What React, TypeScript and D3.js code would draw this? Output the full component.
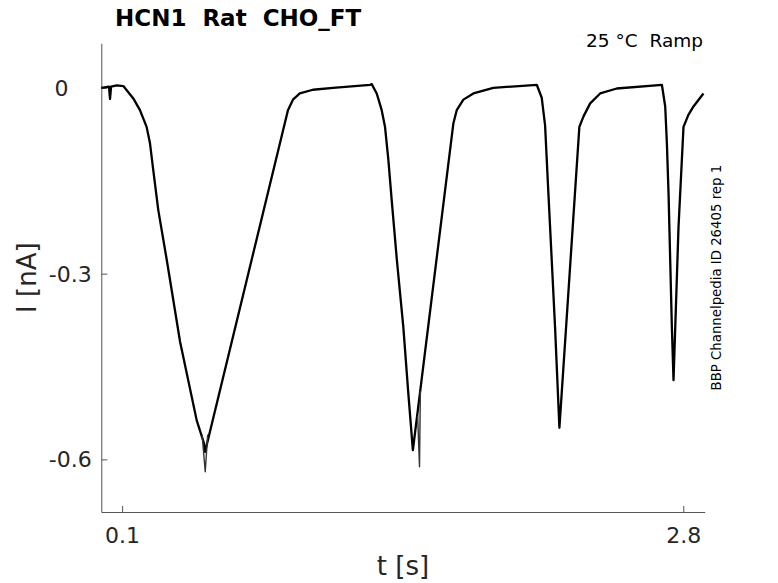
import { useEffect, useRef } from "react";
import * as d3 from "d3";

// main sweep overlay (t in s, I in nA)
const timeA = [
  0.0, 0.037, 0.042, 0.047, 0.075, 0.106, 0.154, 0.186, 0.218, 0.234, 0.25, 0.274, 0.315, 0.379,
  0.459, 0.494, 0.499, 0.898, 0.922, 0.955, 1.018, 1.115, 1.293, 1.301, 1.325, 1.349, 1.365, 1.381,
  1.397, 1.422, 1.453, 1.477, 1.499, 1.694, 1.71, 1.742, 1.79, 1.886, 2.095, 2.119, 2.135, 2.151,
  2.167, 2.183, 2.204, 2.3, 2.32, 2.352, 2.4, 2.48, 2.697, 2.713, 2.721, 2.729, 2.737, 2.745, 2.753,
  2.777, 2.801, 2.824, 2.849, 2.897,
];
const currentA = [
  0.0, 0.002, -0.018, 0.002, 0.004, 0.003, -0.017, -0.036, -0.063, -0.089, -0.133, -0.197, -0.278,
  -0.41, -0.537, -0.574, -0.588, -0.036, -0.019, -0.009, -0.003, 0.0, 0.005, 0.006, -0.009, -0.036,
  -0.063, -0.116, -0.181, -0.278, -0.386, -0.493, -0.585, -0.057, -0.036, -0.019, -0.009, 0.0, 0.005,
  -0.016, -0.06, -0.17, -0.278, -0.386, -0.549, -0.063, -0.046, -0.025, -0.009, -0.001, 0.005, -0.03,
  -0.089, -0.17, -0.278, -0.386, -0.472, -0.225, -0.063, -0.044, -0.03, -0.009,
];

// sweeps that dip deeper near the first two troughs
const spikeTime1 = [0.485, 0.5, 0.512];
const spikeCurrent1 = [-0.56, -0.62, -0.56];
const spikeTime2 = [1.522, 1.531, 1.535];
const spikeCurrent2 = [-0.53, -0.612, -0.49];

const xTicks = [0.1, 2.8];
const xTickLabels = ["0.1", "2.8"];
const yTicks = [-0.6, -0.3, 0];
const yTickLabels = ["-0.6", "-0.3", "0\u2007\u2008\u200A"];

const xDomain: [number, number] = [0, 2.903];
const yDomain: [number, number] = [-0.685, 0.072];

const FONT = "'DejaVu Sans', sans-serif";

export default function App() {
  const svgRef = useRef<SVGSVGElement>(null);

  useEffect(() => {
    const width = 778;
    const height = 583;
    const svg = d3.select(svgRef.current);
    svg.selectAll("*").remove();

    const margin = { top: 43.3, right: 73.3, bottom: 71, left: 101.3 };
    const W = width - margin.left - margin.right;
    const H = height - margin.top - margin.bottom;

    svg.attr("width", width).attr("height", height);
    svg.append("rect").attr("width", width).attr("height", height).attr("fill", "#fff");

    const g = svg.append("g").attr("transform", `translate(${margin.left},${margin.top})`);

    const xScale = d3.scaleLinear().domain(xDomain).range([0, W]);
    const yScale = d3.scaleLinear().domain(yDomain).range([H, 0]);

    // Axes (MATLAB style: inward ticks, no box)
    g.append("g")
      .attr("transform", `translate(0,${H})`)
      .call(
        d3.axisBottom(xScale)
          .tickValues(xTicks)
          .tickFormat((_, i) => xTickLabels[i])
          .tickSizeInner(-6)
          .tickSizeOuter(0)
          .tickPadding(15)
      )
      .call((ax) => ax.select(".domain").attr("stroke", "#555"))
      .call((ax) => ax.selectAll(".tick line").attr("stroke", "#555"))
      .call((ax) =>
        ax.selectAll(".tick text").attr("fill", "#262626").attr("font-size", 22).attr("font-family", FONT)
      );

    g.append("g")
      .call(
        d3.axisLeft(yScale)
          .tickValues(yTicks)
          .tickFormat((_, i) => yTickLabels[i])
          .tickSizeInner(-6)
          .tickSizeOuter(0)
          .tickPadding(9.5)
      )
      .call((ax) => ax.select(".domain").attr("stroke", "#555"))
      .call((ax) => ax.selectAll(".tick line").attr("stroke", "#555"))
      .call((ax) =>
        ax
          .selectAll(".tick text")
          .attr("fill", "#262626")
          .attr("font-size", 22)
          .attr("font-family", FONT)
          .attr("dy", null)
          .attr("dominant-baseline", "central")
      );

    // Traces
    const path = d3
      .line<[number, number]>()
      .x(([t]) => xScale(t))
      .y(([, v]) => yScale(v));

    const drawTrace = (ts: number[], vs: number[], stroke: string, sw: number) => {
      g.append("path")
        .datum(ts.map((t, i) => [t, vs[i]] as [number, number]))
        .attr("d", path)
        .attr("fill", "none")
        .attr("stroke", stroke)
        .attr("stroke-width", sw)
        .attr("stroke-linejoin", "round");
    };

    drawTrace(timeA, currentA, "#000", 2.3);
    drawTrace(spikeTime1, spikeCurrent1, "#333", 1.4);
    drawTrace(spikeTime2, spikeCurrent2, "#333", 1.4);

    // Axis labels
    g.append("text")
      .attr("x", W / 2)
      .attr("y", H + 63)
      .attr("text-anchor", "middle")
      .attr("font-size", 26)
      .attr("font-family", FONT)
      .attr("fill", "#262626")
      .text("t [s]");

    svg
      .append("text")
      .attr("transform", `translate(35.5,${margin.top + H / 2}) rotate(-90)`)
      .attr("text-anchor", "middle")
      .attr("font-size", 26)
      .attr("font-family", FONT)
      .attr("fill", "#262626")
      .text("I [nA]");

    // Title & annotations
    svg
      .append("text")
      .attr("x", 115)
      .attr("y", 26)
      .attr("font-size", 23)
      .attr("font-weight", "bold")
      .attr("font-family", FONT)
      .attr("fill", "#000")
      .style("white-space", "pre")
      .text("HCN1  Rat  CHO_FT");

    svg
      .append("text")
      .attr("x", 703)
      .attr("y", 47)
      .attr("text-anchor", "end")
      .attr("font-size", 18.5)
      .attr("font-family", FONT)
      .attr("fill", "#000")
      .style("white-space", "pre")
      .text("25 °C  Ramp");

    svg
      .append("text")
      .attr("transform", `translate(721,${margin.top + H / 2}) rotate(-90)`)
      .attr("text-anchor", "middle")
      .attr("font-size", 13.3)
      .attr("font-family", FONT)
      .attr("fill", "#000")
      .text("BBP Channelpedia ID 26405 rep 1");
  }, []);

  return <svg ref={svgRef} style={{ position: "absolute", left: 0, top: 0 }} />;
}
